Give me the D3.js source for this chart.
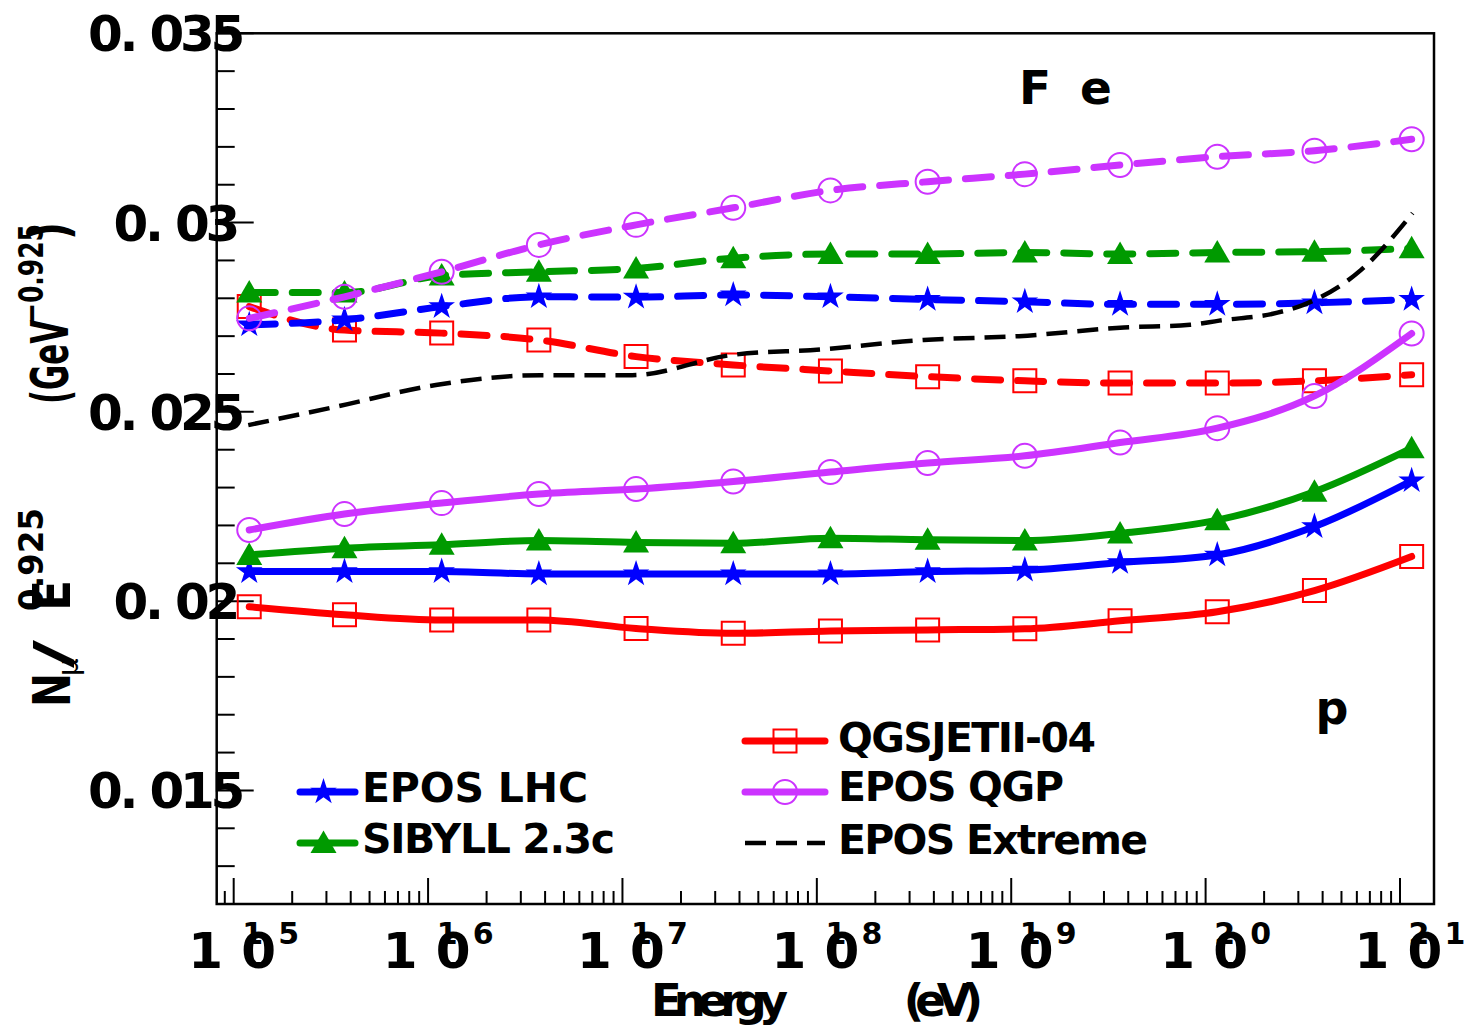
<!DOCTYPE html>
<html><head><meta charset="utf-8">
<script src="https://cdn.jsdelivr.net/npm/d3@7"></script>
<style>
html,body{margin:0;padding:0;background:#fff;}
text{font-family:"DejaVu Sans",sans-serif;font-weight:bold;fill:#000;}
</style></head>
<body><svg id="c" width="1469" height="1029"></svg>
<script>
// ---- data (log10 of energy in eV) ----
const logE = [15.08, 15.57, 16.07, 16.57, 17.07, 17.57, 18.07, 18.57, 19.07, 19.56, 20.06, 20.56, 21.06];
// Iron (dashed)
const feQGSJET = [0.02778, 0.02716, 0.02708, 0.02690, 0.02646, 0.02624, 0.02608, 0.02593, 0.02582, 0.02576, 0.02576, 0.02582, 0.02598];
const feLHC    = [0.02730, 0.02743, 0.02778, 0.02804, 0.02803, 0.02809, 0.02804, 0.02797, 0.02791, 0.02784, 0.02784, 0.02788, 0.02797];
const feSIBYLL = [0.02815, 0.02815, 0.02860, 0.02870, 0.02879, 0.02906, 0.02917, 0.02917, 0.02921, 0.02917, 0.02921, 0.02923, 0.02932];
const feQGP    = [0.02747, 0.02804, 0.02870, 0.02941, 0.02994, 0.03039, 0.03085, 0.03108, 0.03128, 0.03152, 0.03174, 0.03190, 0.03220];
const extremeLogE = [15.075, 15.53, 16.04, 16.58, 17.05, 17.56, 18.02, 18.55, 19.04, 19.58, 19.92, 20.07, 20.37, 20.50, 20.80, 21.065];
const feExtreme   = [0.02465, 0.02514, 0.02571, 0.02597, 0.02597, 0.02650, 0.02665, 0.02690, 0.02700, 0.02723, 0.02730, 0.02741, 0.02762, 0.02782, 0.02875, 0.03025];
// Proton (solid)
const pQGSJET = [0.01985, 0.01964, 0.01950, 0.01950, 0.01928, 0.01915, 0.01921, 0.01924, 0.01927, 0.01948, 0.01972, 0.02028, 0.02118];
const pLHC    = [0.02078, 0.02078, 0.02078, 0.02072, 0.02072, 0.02072, 0.02072, 0.02078, 0.02082, 0.02102, 0.02122, 0.02197, 0.02318];
const pSIBYLL = [0.02122, 0.02140, 0.02149, 0.02160, 0.02155, 0.02153, 0.02166, 0.02162, 0.02160, 0.02179, 0.02214, 0.02289, 0.02404];
const pQGP    = [0.02188, 0.02230, 0.02259, 0.02283, 0.02296, 0.02316, 0.02341, 0.02365, 0.02384, 0.02419, 0.02457, 0.02542, 0.02707];
// ticks / labels
const yTicks = ["0.015", "0.02", "0.025", "0.03", "0.035"];
const xDecades = [15, 16, 17, 18, 19, 20, 21];
const modelNames = ["QGSJETII-04", "EPOS LHC", "SIBYLL 2.3c", "EPOS QGP", "EPOS Extreme"];

// ---- setup ----
const svg = d3.select("#c");
const L = 216.7, R = 1434, T = 33.3, B = 904;
const x = d3.scaleLog().domain([Math.pow(10, 14.9126), Math.pow(10, 21.175)]).range([L, R]);
const y = d3.scaleLinear().domain([0.012, 0.035]).range([B, T]);

const colors = {red: "#ff0000", blue: "#0000ff", green: "#009a00", purple: "#cc33ff"};

// frame
svg.append("rect").attr("x", L).attr("y", T).attr("width", R - L).attr("height", B - T)
  .attr("fill", "none").attr("stroke", "#000").attr("stroke-width", 2.5);

// y ticks (major every 0.005, minor every 0.001)
const yMinor = d3.range(12, 36).map(v => v / 1000);
svg.append("g").selectAll("line").data(yMinor).join("line")
  .attr("x1", L).attr("x2", d => L + (Math.round(d * 1000) % 5 === 0 ? 37 : 18))
  .attr("y1", d => y(d)).attr("y2", d => y(d))
  .attr("stroke", "#000").attr("stroke-width", 2);

// x ticks
const xMinor = [];
for (let n = 14; n <= 21; n++) for (let k = 1; k <= 9; k++) {
  const v = k * Math.pow(10, n);
  if (v >= x.domain()[0] && v <= x.domain()[1]) xMinor.push({v, major: k === 1});
}
svg.append("g").selectAll("line").data(xMinor).join("line")
  .attr("x1", d => x(d.v)).attr("x2", d => x(d.v))
  .attr("y1", B).attr("y2", d => B - (d.major ? 26 : 13))
  .attr("stroke", "#000").attr("stroke-width", 2);

// y tick labels
yTicks.forEach(s => {
  const v = +s;
  const digits = s.split(".")[1];
  const n = digits.length;
  const last = n === 3 ? 228 : 223;
  const dpos = d3.range(n).map(i => last - 30.5 * (n - 1 - i));
  const dot = dpos[0] - 38;
  const zero = dot - 23.5;
  svg.append("text").attr("x", [zero, dot, ...dpos].join(" "))
    .attr("y", y(v) + 18).attr("text-anchor", "middle")
    .style("font-size", "50px").text(s);
});

// x tick labels: 10^n
xDecades.forEach(n => {
  const t = x(Math.pow(10, n));
  svg.append("text").attr("x", [t - 28, t + 25].join(" ")).attr("y", 968)
    .attr("text-anchor", "middle").style("font-size", "50px").text("10");
  svg.append("text").attr("x", [t + 19, t + 55].join(" ")).attr("y", 944)
    .attr("text-anchor", "middle").style("font-size", "30px").text(String(n));
});

// axis titles
const xt = svg.append("text").attr("y", 1016).style("font-size", "45px");
xt.append("tspan").attr("x", 651).style("letter-spacing", "-8px").text("Energy");
xt.append("tspan").attr("x", 897).style("letter-spacing", "-9px").text(" (eV)");

function rotText(xb, ys, txt, size, len, weight) {
  const t = svg.append("text").attr("transform", `translate(${xb},${ys}) rotate(-90)`)
    .style("font-size", size + "px").text(txt);
  if (len) t.attr("textLength", len).attr("lengthAdjust", "spacingAndGlyphs");
  if (weight) t.style("font-weight", weight);
  return t;
}
rotText(70, 707, "N", 52, 34);
rotText(78, 676, "μ", 28, null, "normal");
rotText(69, 668, "/", 50, 28);
rotText(70, 611, "E", 52, 31);
rotText(43, 611, "0.925", 34, 103);
rotText(68, 404, "(GeV", 52, 84);
rotText(43, 324, "−0.925", 34, 100);
rotText(68, 240, ")", 52, 18);

// ---- series ----
const line = d3.line().x(d => x(Math.pow(10, d[0]))).y(d => y(d[1])).curve(d3.curveMonotoneX);
const pairs = (xs, ys) => xs.map((v, i) => [v, ys[i]]);

const sym = {
  square: {path: "M-11.5,-11.5H11.5V11.5H-11.5Z", fill: "none", sw: 2},
  circle: {path: d3.symbol(d3.symbolCircle, Math.PI * 12 * 12)(), fill: "none", sw: 2},
  star: {path: d3.symbol(d3.symbolStar, 220)(), fill: "c", sw: 0},
  triangle: {path: "M0,-12.5L13,10L-13,10Z", fill: "c", sw: 0}
};

function drawMarker(g, cx, cy, type, color) {
  const s = sym[type];
  g.append("path").attr("d", s.path).attr("transform", `translate(${cx},${cy})`)
    .attr("fill", s.fill === "c" ? color : "none")
    .attr("stroke", color).attr("stroke-width", s.sw || 0);
}

function series(vals, color, type, dashed) {
  const g = svg.append("g");
  const data = pairs(logE, vals);
  g.append("path").attr("d", line(data)).attr("fill", "none").attr("stroke", color)
    .attr("stroke-width", 7).attr("stroke-linecap", "round").attr("stroke-linejoin", "round")
    .attr("stroke-dasharray", dashed ? "26,17" : null);
  data.forEach(d => drawMarker(g, x(Math.pow(10, d[0])), y(d[1]), type, color));
}

series(feQGSJET, colors.red, "square", true);
series(feLHC, colors.blue, "star", true);
series(feSIBYLL, colors.green, "triangle", true);
series(feQGP, colors.purple, "circle", true);
svg.append("path").attr("d", line(pairs(extremeLogE, feExtreme))).attr("fill", "none")
  .attr("stroke", "#000").attr("stroke-width", 4.5).attr("stroke-dasharray", "21,10");
series(pQGSJET, colors.red, "square", false);
series(pLHC, colors.blue, "star", false);
series(pSIBYLL, colors.green, "triangle", false);
series(pQGP, colors.purple, "circle", false);

// labels Fe / p
svg.append("text").attr("x", "1035 1096").attr("y", 104).attr("text-anchor", "middle")
  .style("font-size", "47px").text("Fe");
svg.append("text").attr("x", 1332).attr("y", 724).attr("text-anchor", "middle")
  .style("font-size", "46px").text("p");

// ---- legend ----
const legend = [
  {name: modelNames[0], color: colors.red, type: "square", lx: 745, ly: 741, tx: 838, ty: 752, len: 258},
  {name: modelNames[3], color: colors.purple, type: "circle", lx: 745, ly: 792, tx: 838, ty: 801, len: 226},
  {name: modelNames[4], color: "#000", type: null, lx: 745, ly: 843, tx: 838, ty: 854, len: 310},
  {name: modelNames[1], color: colors.blue, type: "star", lx: 300, ly: 792, tx: 362, ty: 802, len: 226},
  {name: modelNames[2], color: colors.green, type: "triangle", lx: 300, ly: 843, tx: 362, ty: 853, len: 253}
];
legend.forEach(e => {
  const g = svg.append("g");
  const w = e.lx < 500 ? 55 : 80;
  if (e.type) {
    g.append("line").attr("x1", e.lx).attr("x2", e.lx + w).attr("y1", e.ly).attr("y2", e.ly)
      .attr("stroke", e.color).attr("stroke-width", 7).attr("stroke-linecap", "round");
    drawMarker(g, e.lx + w / 2 + (e.lx < 500 ? -4 : 0), e.ly, e.type, e.color);
  } else {
    g.append("line").attr("x1", e.lx).attr("x2", e.lx + w).attr("y1", e.ly).attr("y2", e.ly)
      .attr("stroke", e.color).attr("stroke-width", 4.5).attr("stroke-dasharray", "21,10");
  }
  g.append("text").attr("x", e.tx).attr("y", e.ty).style("font-size", "41px")
    .attr("textLength", e.len).attr("lengthAdjust", "spacing").text(e.name);
});
</script></body></html>
